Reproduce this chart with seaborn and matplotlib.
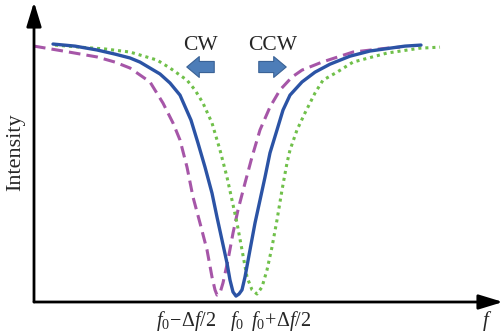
import numpy as np
import pandas as pd
import matplotlib
matplotlib.use("Agg")
import matplotlib.pyplot as plt
import seaborn as sns
from matplotlib.patches import FancyArrowPatch

# detuning in units of Δf/2, intensity normalised to the off-resonance level
f_free = [-9.15, -8.05, -6.95, -6.05, -5.3, -4.8, -4.3, -3.8, -3.3, -2.8,
          -2.25, -1.9, -1.55, -1.2, -0.95, -0.7, -0.45, -0.3, -0.15, 0.0,
          0.15, 0.3, 0.45, 0.7, 0.95, 1.2, 1.45, 1.7, 2.05, 2.35,
          2.7, 3.3, 3.95, 4.7, 5.7, 6.7, 7.7, 8.45, 9.25]
i_free = [1.0, 0.992, 0.977, 0.961, 0.946, 0.930, 0.907, 0.884, 0.849, 0.802,
          0.705, 0.616, 0.523, 0.422, 0.329, 0.240, 0.151, 0.085, 0.039, 0.023,
          0.031, 0.047, 0.097, 0.202, 0.306, 0.395, 0.484, 0.578, 0.667, 0.744,
          0.802, 0.853, 0.891, 0.922, 0.953, 0.973, 0.984, 0.992, 0.996]

f_cw = [-10.1, -8.65, -6.95, -6.05, -5.3, -4.3, -3.65, -3.15, -2.8, -2.45,
        -2.15, -1.8, -1.45, -1.2, -1.05, -0.95, -0.8, -0.65, -0.4, -0.15,
        0.1, 0.45, 0.8, 1.2, 1.7, 2.2, 2.8, 3.3, 4.3, 5.85, 7.55, 8.2]
i_cw = [0.992, 0.973, 0.950, 0.930, 0.907, 0.853, 0.771, 0.694, 0.628, 0.523,
        0.407, 0.306, 0.202, 0.097, 0.047, 0.027, 0.035, 0.074, 0.163, 0.267,
        0.357, 0.461, 0.562, 0.667, 0.756, 0.822, 0.872, 0.899, 0.930, 0.969, 0.984, 0.988]

f_ccw = [-9.05, -7.8, -6.55, -5.3, -3.95, -3.3, -2.45, -2.05, -1.65, -1.2,
         -0.8, -0.45, -0.2, 0.05, 0.3, 0.55, 0.8, 1.05, 1.3, 1.55,
         1.8, 2.05, 2.3, 2.55, 2.7, 3.05, 3.45, 3.95, 4.35, 5.05,
         5.85, 7.55, 9.2, 10.2]
i_ccw = [0.996, 0.988, 0.981, 0.969, 0.938, 0.907, 0.860, 0.822, 0.771, 0.694,
         0.589, 0.484, 0.395, 0.306, 0.202, 0.097, 0.047, 0.031, 0.058, 0.124,
         0.213, 0.318, 0.434, 0.539, 0.589, 0.667, 0.733, 0.810, 0.860, 0.891,
         0.930, 0.965, 0.984, 0.988]

tick_pos = [-2.5, 0.05, 2.25]
tick_labels = [r"$f_0\!-\!\Delta f/2$", r"$f_0$", r"$f_0\!+\!\Delta f/2$"]

sns.set_style("white")
plt.rcParams["font.family"] = ["Liberation Serif", "DejaVu Serif"]
plt.rcParams["mathtext.fontset"] = "custom"
plt.rcParams["mathtext.rm"] = "Liberation Serif"
plt.rcParams["mathtext.it"] = "Liberation Serif:italic"

blue = "#2b53a5"
purple = "#a656a8"
green = "#70c04a"

fig = plt.figure(figsize=(5.03, 3.36), dpi=100)
ax = fig.add_axes([34 / 503, 34 / 336, 469 / 503, 300 / 336])

sns.lineplot(x=f_cw, y=i_cw, ax=ax, sort=False, color=purple, lw=2.2,
             linestyle=(0, (3.8, 2.0)))
sns.lineplot(x=f_ccw, y=i_ccw, ax=ax, sort=False, color=green, lw=2.2,
             linestyle=(0, (1.0, 1.3)))
sns.lineplot(x=f_free, y=i_free, ax=ax, sort=False, color=blue, lw=2.4)

ax.set_xlim(-10.1, 13.35)
ax.set_ylim(0, 1.163)
for s in ax.spines.values():
    s.set_visible(False)

# axes drawn as arrows
head = "-|>,head_width=0.32,head_length=1.05"
for end in [(0, 1), (1, 0)]:
    ax.annotate("", xy=end, xytext=(0, 0), xycoords="axes fraction",
                arrowprops=dict(arrowstyle=head, color="black", lw=2.0,
                                mutation_scale=14, shrinkA=0, shrinkB=0),
                annotation_clip=False)

ax.set_xticks(tick_pos)
ax.set_xticklabels(tick_labels, fontsize=14.5)
ax.set_yticks([])
ax.tick_params(axis="x", length=0, pad=5)
ax.set_xlabel("")
ax.set_ylabel("Intensity", fontsize=16, labelpad=6)
ax.text(12.55, -0.074, r"$f$", fontsize=15, ha="center", va="center")

# CW / CCW shift arrows
for (x0, x1), lab in [((-0.95, -2.6), "CW"), ((1.0, 2.65), "CCW")]:
    arr = FancyArrowPatch((x0, 0.911), (x1, 0.911),
                          arrowstyle="simple,head_width=15,head_length=9,tail_width=8",
                          mutation_scale=1, fc="#4d7db8", ec="#3a6296", lw=0.8)
    ax.add_patch(arr)
    ax.text((x0 + x1) / 2, 0.996, lab, fontsize=15.5, ha="center", va="center")

fig.savefig("out.png", dpi=100)
